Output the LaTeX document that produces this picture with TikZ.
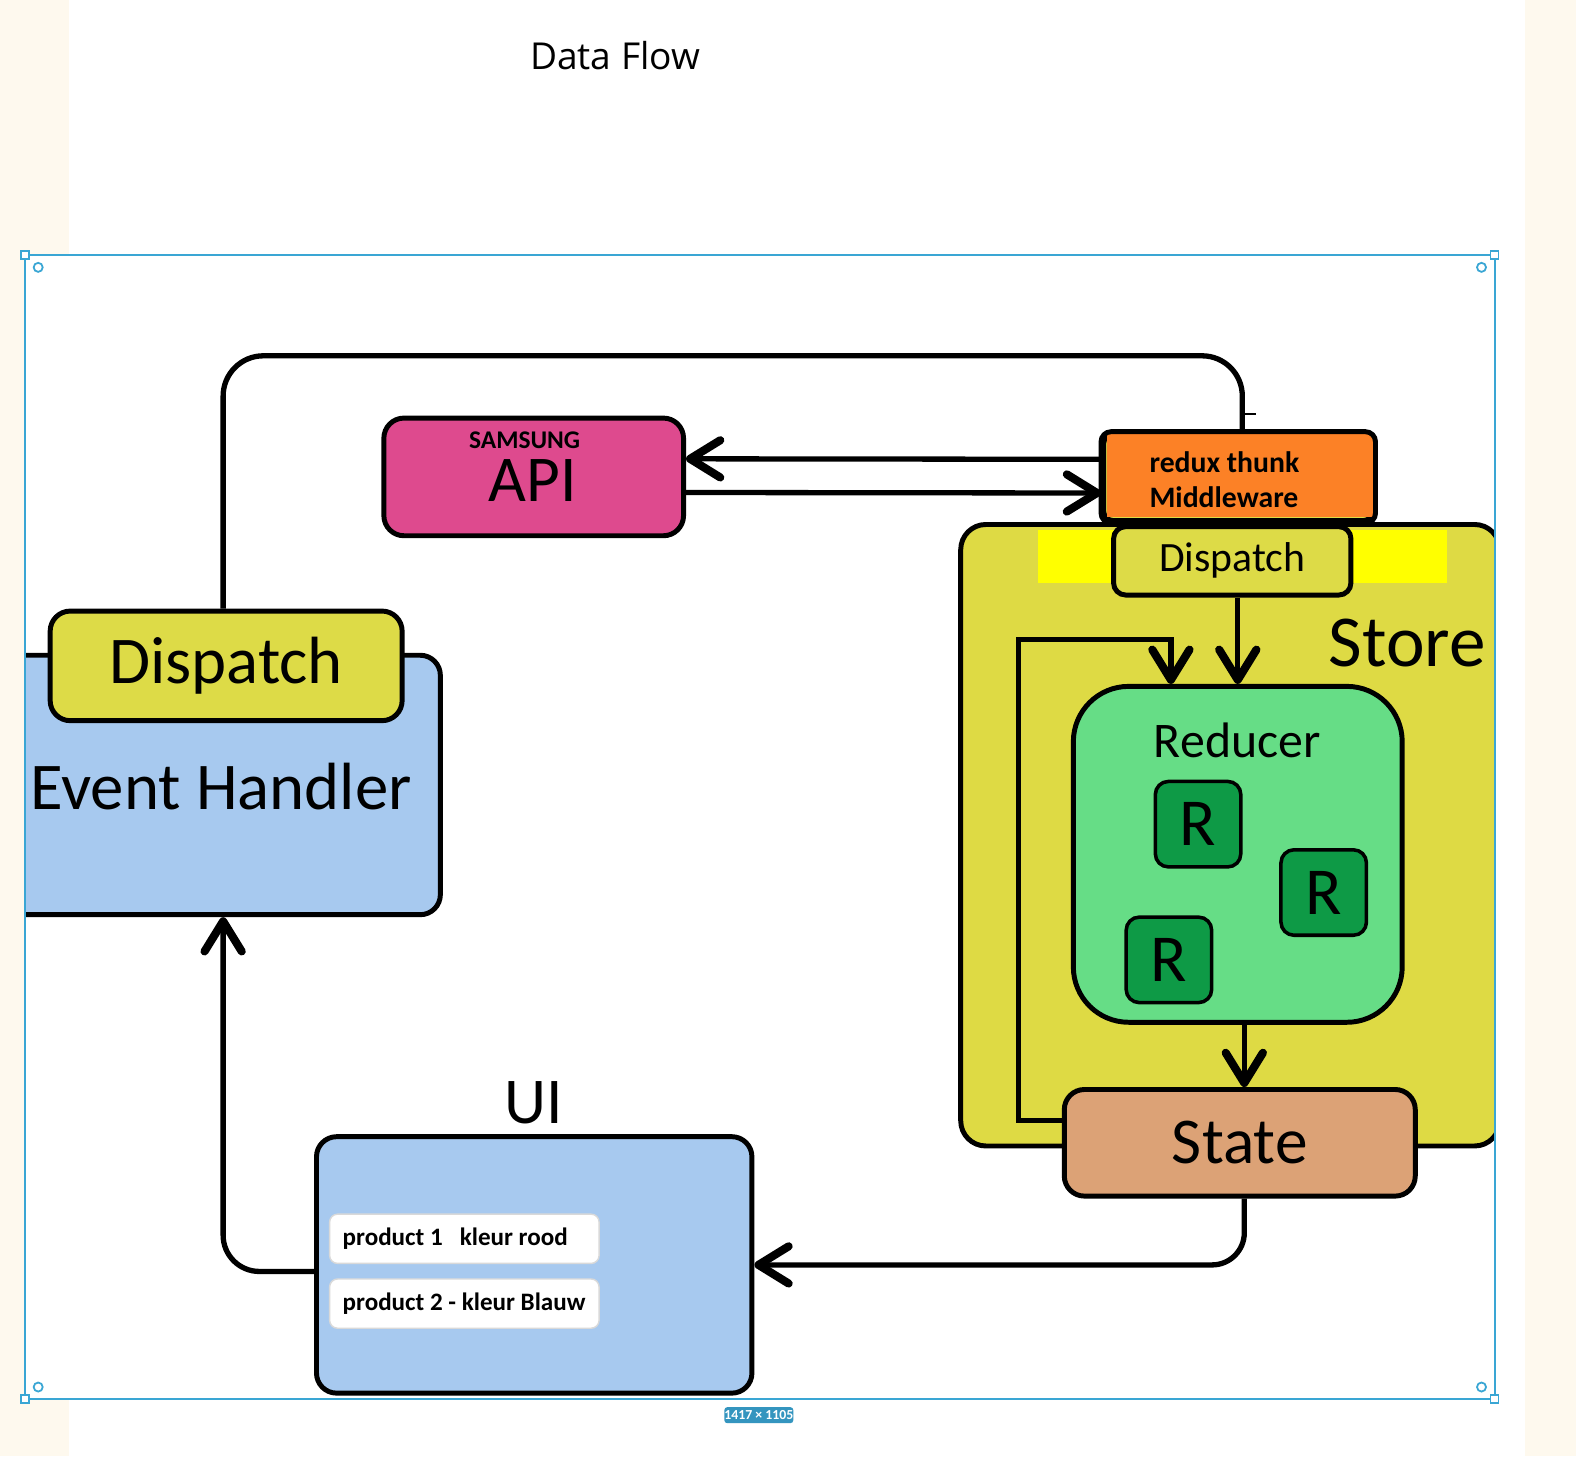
\documentclass[tikz,border=0pt]{standalone}
\usepackage{fontspec}
\setmainfont{Carlito}
\newfontfamily\titlefont{Open Sans}
\usetikzlibrary{arrows.meta}
\definecolor{paper}{HTML}{FEF9EE}
\definecolor{frameblue}{HTML}{3AA6D4}
\definecolor{storeyellow}{HTML}{DEDA44}
\definecolor{hiyellow}{HTML}{FFFF00}
\definecolor{dispyellow}{HTML}{DDDB47}
\definecolor{handlerblue}{HTML}{A7C9EF}
\definecolor{apipink}{HTML}{DE4A8E}
\definecolor{thunkorange}{HTML}{FC8126}
\definecolor{reducergreen}{HTML}{66DD86}
\definecolor{rgreen}{HTML}{0E9A46}
\definecolor{statetan}{HTML}{DCA276}

\begin{document}
\begin{tikzpicture}[x=0.01cm,y=-0.01cm,
    box/.style={draw=black,line width=1.4pt,rounded corners=0.2cm,inner sep=0pt},
    flow/.style={draw=black,line width=1.5pt,-{Straight Barb[length=3mm,width=3.7mm,line width=2.3pt,round]}},
    rbox/.style={box,fill=rgreen,line width=1pt,minimum width=0.85cm,minimum height=0.85cm,rounded corners=0.13cm,font=\fontsize{19}{22}\selectfont},
    prodbox/.style={draw=black!15,fill=white,rounded corners=0.08cm,minimum width=2.68cm,minimum height=0.49cm,inner sep=0pt,font=\bfseries\fontsize{7.1}{8.5}\selectfont},
    handle/.style={draw=frameblue,fill=white,line width=0.5pt,minimum size=0.08cm,inner sep=0pt}]
        \useasboundingbox (0,0) rectangle (1568,1449);
        
        %%PAGE
        % Backdrop
        \fill[paper] (0,0) rectangle (1568,1449);
        \fill[white] (69,0) rectangle (1517,1449);
        \fill[white] (25,254) rectangle (1487,1392);
        
        % Title
        \node[font=\titlefont\fontsize{10.5}{12}\selectfont] (title) at (612,55) {Data Flow};
        
        %%STORE
        \begin{scope}
            \clip (25,254) rectangle (1487,1392);
            \node[box,fill=storeyellow,rounded corners=0.25cm,minimum width=5.36cm,minimum height=6.18cm] (store) at (1224,831) {};
            % Event handler, cut by the frame
            \node[box,fill=handlerblue,minimum width=4.32cm,minimum height=2.58cm] (evh) at (222,781) {};
        \end{scope}
        \fill[hiyellow] (1033,527) rectangle (1440,580);
        \node[font=\fontsize{20.7}{24}\selectfont] (storelabel) at (1400,640) {Store};
        
        % Dispatch inside the store
        \node[box,fill=dispyellow,rounded corners=0.12cm,minimum width=2.36cm,minimum height=0.68cm,font=\fontsize{11.8}{14}\selectfont] (sdisp) at (1226,558) {Dispatch};
        
        % Reducer with its parts
        \node[box,fill=reducergreen,rounded corners=0.55cm,minimum width=3.27cm,minimum height=3.34cm] (reducer) at (1231.5,850) {};
        \node[font=\fontsize{14.1}{17}\selectfont] (reducerlabel) at (1231,737) {Reducer};
        \node[rbox] (ra) at (1192,820) {R};
        \node[rbox] (rb) at (1317,888) {R};
        \node[rbox] (rc) at (1163,955) {R};
        
        % State
        \node[box,fill=statetan,minimum width=3.49cm,minimum height=1.06cm,font=\fontsize{18.5}{22}\selectfont] (state) at (1233.5,1137) {State};
        
        %%MIDDLEWARE AND API
        \node[box,fill=dispyellow,rounded corners=0.1cm,minimum width=2.68cm,minimum height=0.86cm] (redux) at (1232,475) {};
        \fill[thunkorange] ([shift={(0.06cm,-0.02cm)}]redux.north west) rectangle ([shift={(-0.03cm,0.06cm)}]redux.south east);
        \draw[line width=1.4pt,rounded corners=0.1cm] (redux.north west) rectangle (redux.south east);
        \node[anchor=west,align=left,inner sep=0pt,font=\bfseries\fontsize{8.4}{10}\selectfont] (thunktext) at (1143,477) {redux thunk\\Middleware};
        
        \node[box,fill=apipink,minimum width=2.98cm,minimum height=1.17cm] (api) at (531,474.5) {};
        \node[font=\bfseries\fontsize{7.2}{8}\selectfont] (samsung) at (522,438) {SAMSUNG};
        \node[font=\fontsize{18.5}{20}\selectfont] (apilabel) at (530,478) {API};
        
        %%UI
        \node[box,fill=handlerblue,minimum width=4.33cm,minimum height=2.55cm] (ui) at (531.5,1258.5) {};
        \node[font=\fontsize{18.5}{22}\selectfont] (uilabel) at (531,1097) {UI};
        \node[prodbox] (proda) at (462,1232.5) {\makebox[2.42cm][l]{product 1~~~kleur rood}};
        \node[prodbox] (prodb) at (462,1297) {\makebox[2.42cm][l]{product 2 - kleur Blauw}};
        
        %%EVENT HANDLER
        \node[font=\fontsize{18.9}{22}\selectfont] (evhlabel) at (220,783) {Event Handler};
        \node[box,fill=dispyellow,minimum width=3.5cm,minimum height=1.09cm,font=\fontsize{18.9}{22}\selectfont] (ldisp) at (225,662.5) {Dispatch};
        
        %%ARROWS
        % Dispatch up and over to the middleware
        \draw[line width=1.5pt,rounded corners=0.4cm] ([xshift=-0.03cm]ldisp.north) -- ([xshift=-0.03cm]ldisp.north |- 0,354) -- ([xshift=0.04cm]redux.north |- 0,354) -- ([xshift=0.04cm]redux.north);
        \draw[line width=0.6pt] (1236,412) -- (1250,412);
        
        % Middleware <-> API
        \draw[flow] ([yshift=0.18cm]redux.west) -- ([yshift=0.18cm]api.east);
        \draw[flow] ([yshift=-0.155cm]api.east) -- ([yshift=-0.155cm]redux.west);
        
        % Inside the store
        \draw[flow] (reducer.north |- sdisp.south) -- (reducer.north);
        \draw[flow] ([xshift=0.065cm]reducer.south) -- ([xshift=0.065cm]reducer.south |- state.north);
        \coordinate (loopturn) at (1013,636);
        \draw[flow] ([yshift=0.22cm]state.west) -| (loopturn) -| ([xshift=-0.665cm]reducer.north);
        
        % State down to the UI
        \draw[flow,rounded corners=0.32cm] ([xshift=0.045cm]state.south) |- (ui.east);
        
        % UI up to the event handler
        \draw[flow,rounded corners=0.36cm] ([yshift=-0.065cm]ui.west) -| (evh.south);
        
        %%FRAME
        \draw[frameblue,line width=0.6pt] (25,254) rectangle (1487,1392);
        \node[handle] (hnw) at (25,254) {};
        \node[handle] (hne) at (1487,254) {};
        \node[handle] (hsw) at (25,1392) {};
        \node[handle] (hse) at (1487,1392) {};
        \draw[frameblue,line width=0.5pt] (38,266) circle (0.045cm);
        \draw[frameblue,line width=0.5pt] (1474,266) circle (0.045cm);
        \draw[frameblue,line width=0.5pt] (38,1380) circle (0.045cm);
        \draw[frameblue,line width=0.5pt] (1474,1380) circle (0.045cm);
        \node[fill=frameblue!90!black,text=white,rounded corners=0.03cm,minimum width=0.68cm,minimum height=0.16cm,inner sep=0pt,font=\bfseries\fontsize{3.9}{4}\selectfont] (sizetag) at (755,1408) {1417 × 1105};
\end{tikzpicture}
\end{document}
